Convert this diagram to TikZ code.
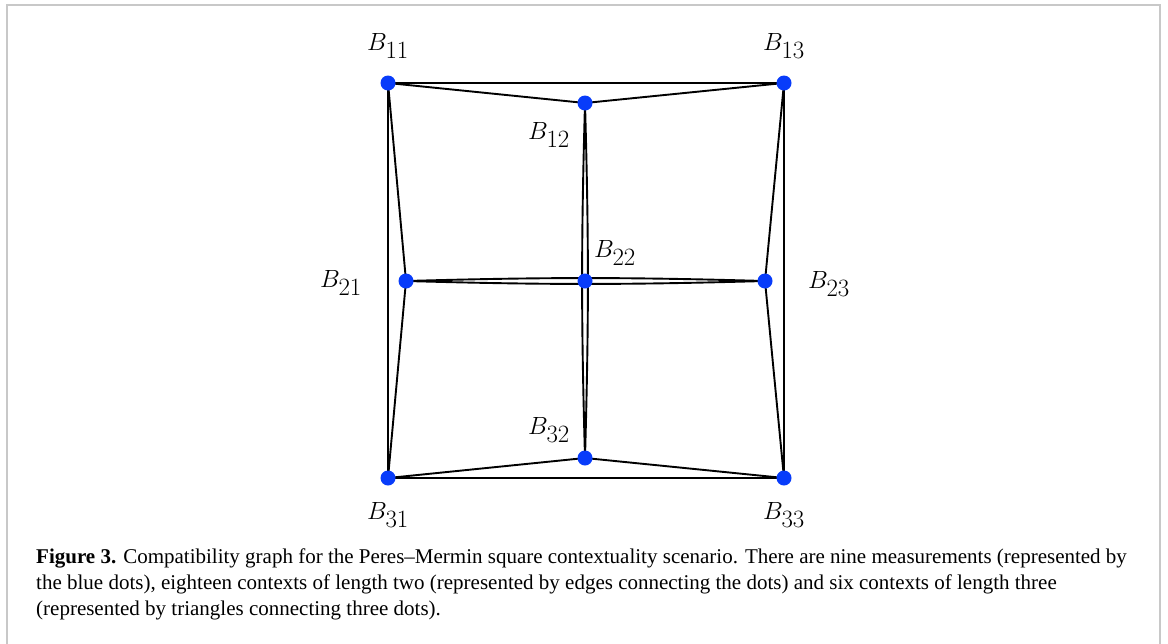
\documentclass[tikz,border=0pt]{standalone}
\usepackage{fontspec}
\newfontfamily\capfont{Liberation Serif}
\definecolor{dotblue}{RGB}{8,60,250}
\definecolor{framegray}{RGB}{200,200,200}
\pgfdeclarelayer{bg}
\pgfsetlayers{bg,main}
\tikzset{
  dot/.style={circle,fill=dotblue,inner sep=0pt,minimum size=15pt},
  lab/.style={inner sep=0pt,font=\fontsize{33}{35}\selectfont},
  edge/.style={draw=black,line width=1.9pt},
}
\begin{document}
\begin{tikzpicture}[x=1pt,y=-1pt]
\useasboundingbox (0,0) rectangle (1168,643);
\begin{scope}
\clip (0,0) rectangle (1168,643);
\draw[framegray,line width=2pt] (7,5) rectangle (1160,660);
\end{scope}
% dots
\node[dot] (B11) at (388,83) {};
\node[dot] (B12) at (585,103) {};
\node[dot] (B13) at (784,83) {};
\node[dot] (B21) at (406,281) {};
\node[dot] (B22) at (585,281) {};
\node[dot] (B23) at (765,281) {};
\node[dot] (B31) at (388,478) {};
\node[dot] (B32) at (585,458) {};
\node[dot] (B33) at (784,478) {};
% labels
\node[lab] (L11) at (388,46) {$B_{11}$};
\node[lab] (L13) at (784,46) {$B_{13}$};
\node[lab] (L12) at (549,135) {$B_{12}$};
\node[lab] (L21) at (341,283) {$B_{21}$};
\node[lab] (L22) at (615,253) {$B_{22}$};
\node[lab] (L23) at (829,284) {$B_{23}$};
\node[lab] (L32) at (549,430) {$B_{32}$};
\node[lab] (L31) at (388,515) {$B_{31}$};
\node[lab] (L33) at (784,515) {$B_{33}$};
% edges
\begin{pgfonlayer}{bg}
\draw[edge] (B11.center) -- (B12.center) -- (B13.center) -- (B11.center);
\draw[edge] (B31.center) -- (B32.center) -- (B33.center) -- (B31.center);
\draw[edge] (B11.center) -- (B21.center) -- (B31.center) -- (B11.center);
\draw[edge] (B13.center) -- (B23.center) -- (B33.center) -- (B13.center);
\draw[edge] (B21.center) to[bend left=1.6] (B23.center);
\draw[edge] (B21.center) to[bend right=1.6] (B23.center);
\draw[edge] (B12.center) to[bend left=1.6] (B32.center);
\draw[edge] (B12.center) to[bend right=1.6] (B32.center);
\end{pgfonlayer}
% caption
\node[anchor=north west,inner sep=0pt,align=left,
      font=\capfont\fontsize{21}{26}\selectfont] (cap) at (36,549)
{\textbf{Figure 3.} Compatibility graph for the Peres–Mermin square contextuality scenario. There are nine measurements (represented by\\
the blue dots), eighteen contexts of length two (represented by edges connecting the dots) and six contexts of length three\\
(represented by triangles connecting three dots).};
\end{tikzpicture}
\end{document}
